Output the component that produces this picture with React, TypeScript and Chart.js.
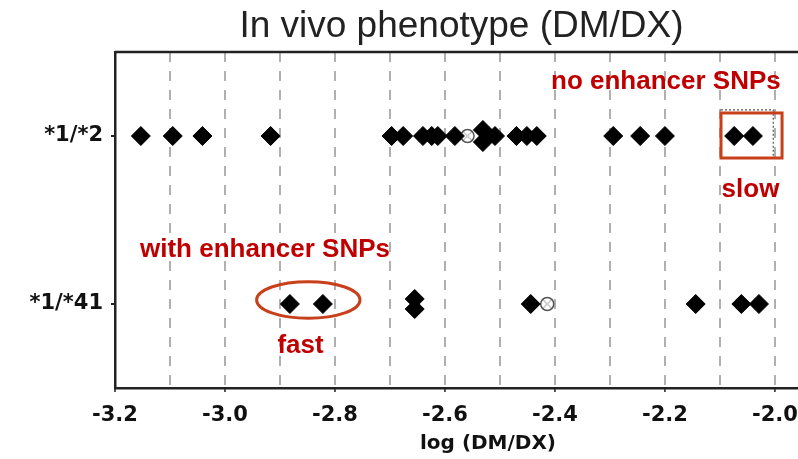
import React, { useEffect, useRef } from "react";
import { Chart, registerables } from "chart.js";

Chart.register(...registerables);

// ---- data ----
const genotypes = ["*1/*41", "*1/*2"]; // y = 1, y = 2
const xTickValues = [-3.2, -3.1, -3.0, -2.9, -2.8, -2.7, -2.6, -2.5, -2.4, -2.3, -2.2, -2.1, -2.0];
const xTickLabels = ["-3.2", "", "-3.0", "", "-2.8", "", "-2.6", "", "-2.4", "", "-2.2", "", "-2.0"];

// *1/*2 carriers (single diamonds)
const star2Values = [
  -3.153, -3.095, -3.041, -2.917, -2.697, -2.676, -2.64, -2.624, -2.613, -2.582,
  -2.509, -2.47, -2.451, -2.433, -2.294, -2.245, -2.2, -2.074, -2.04,
];
// *1/*2 carriers sharing a position (stacked pair)
const star2Stacked = [-2.531];
// *1/*2 open (crossed circle) marker
const star2Open = [-2.559];

// *1/*41 carriers
const star41Values = [-2.882, -2.822, -2.444, -2.144, -2.061, -2.029];
const star41Stacked = [-2.655];
const star41Open = [-2.414];

const TEXT_RED = "#C00000";
const SHAPE_RED = "#C8401A";

export default function App() {
  const ref = useRef<HTMLCanvasElement | null>(null);

  useEffect(() => {
    document.body.style.margin = "0";
    const canvas = ref.current;
    if (!canvas) return;

    const row = (vals: number[], y: number) => vals.map((x) => ({ x, y }));
    const stack = (vals: number[], y: number, d: number) =>
      vals.flatMap((x) => [
        { x, y: y + d },
        { x, y: y - d },
      ]);

    const diamondData = [
      ...row(star2Values, 2),
      ...stack(star2Stacked, 2, 0.036),
      ...row(star41Values, 1),
      ...stack(star41Stacked, 1, 0.03),
    ];
    const openData = [...row(star2Open, 2), ...row(star41Open, 1)];

    const annot = {
      id: "annot",
      afterDatasetsDraw(chart: any) {
        const ctx = chart.ctx;
        const xs = chart.scales.x;
        const ys = chart.scales.y;
        const { left, right, top, bottom } = chart.chartArea;
        ctx.save();
        // top frame line
        ctx.strokeStyle = "#222";
        ctx.lineWidth = 2.5;
        ctx.beginPath();
        ctx.moveTo(left, top);
        ctx.lineTo(right, top);
        ctx.stroke();

        // small tick marks under labelled x ticks
        ctx.lineWidth = 1.5;
        ctx.beginPath();
        xTickValues.forEach((v, i) => {
          if (!xTickLabels[i]) return;
          const px = xs.getPixelForValue(v);
          ctx.moveTo(px, bottom);
          ctx.lineTo(px, bottom + 4);
        });
        ctx.stroke();

        // dotted box around slow points
        const dx1 = xs.getPixelForValue(-2.098);
        const dx2 = xs.getPixelForValue(-2.003);
        const dy1 = ys.getPixelForValue(2.155);
        const dy2 = ys.getPixelForValue(1.869);
        ctx.strokeStyle = "#555";
        ctx.lineWidth = 1.2;
        ctx.setLineDash([2, 2]);
        ctx.strokeRect(dx1, dy1, dx2 - dx1, dy2 - dy1);
        ctx.setLineDash([]);

        // red rectangle around slow points
        const rx1 = xs.getPixelForValue(-2.098);
        const rx2 = xs.getPixelForValue(-1.987);
        const ry1 = ys.getPixelForValue(2.137);
        const ry2 = ys.getPixelForValue(1.869);
        ctx.strokeStyle = SHAPE_RED;
        ctx.lineWidth = 3;
        ctx.strokeRect(rx1, ry1, rx2 - rx1, ry2 - ry1);

        // ellipse around fast points
        const ecx = xs.getPixelForValue(-2.8485);
        const ecy = ys.getPixelForValue(1.024);
        const erx = xs.getPixelForValue(-2.8485 + 0.094) - ecx;
        const ery = ecy - ys.getPixelForValue(1.024 + 0.109);
        ctx.beginPath();
        ctx.ellipse(ecx, ecy, erx, ery, 0, 0, Math.PI * 2);
        ctx.stroke();

        // annotation texts
        ctx.fillStyle = TEXT_RED;
        ctx.font = "bold 26px 'Liberation Sans', Arial, sans-serif";
        ctx.textBaseline = "alphabetic";
        ctx.textAlign = "left";
        ctx.fillText("no enhancer SNPs", 551, 89);
        ctx.fillText("with enhancer SNPs", 140, 257);
        ctx.textAlign = "center";
        ctx.fillText("slow", 750.5, 197);
        ctx.fillText("fast", 300.5, 353);

        // title
        ctx.fillStyle = "#222";
        ctx.font = "37px 'Liberation Sans', Arial, sans-serif";
        ctx.textAlign = "center";
        ctx.fillText("In vivo phenotype (DM/DX)", 461.5, 37);

        // x axis title
        ctx.fillStyle = "#111";
        ctx.font = "bold 20px 'DejaVu Sans', Verdana, sans-serif";
        ctx.fillText("log (DM/DX)", 488, 449);
        ctx.restore();
      },
    };

    const chart = new Chart(canvas, {
      type: "scatter",
      data: {
        datasets: [
          {
            label: "diamonds",
            data: diamondData,
            pointStyle: "rectRot",
            pointRadius: 9.5,
            backgroundColor: "#000",
            borderColor: "#000",
            borderWidth: 1,
          },
          {
            label: "open",
            data: openData,
            pointStyle: "circle",
            pointRadius: 6.5,
            backgroundColor: "rgba(255,255,255,0.7)",
            borderColor: "#555",
            borderWidth: 1.5,
          },
          {
            label: "openX",
            data: openData,
            pointStyle: "crossRot",
            pointRadius: 6.5,
            backgroundColor: "#555",
            borderColor: "#555",
            borderWidth: 1.5,
          },
        ],
      },
      options: {
        responsive: false,
        animation: false,
        events: [],
        layout: { autoPadding: false, padding: { left: 0, right: 0, top: 52, bottom: 0 } },
        plugins: {
          legend: { display: false },
          tooltip: { enabled: false },
          title: { display: false },
        },
        scales: {
          x: {
            type: "linear",
            min: -3.2,
            max: -1.958,
            afterBuildTicks: (s: any) => {
              s.ticks = xTickValues.map((v) => ({ value: v }));
            },
            afterFit: (s: any) => {
              s.height = 71;
              s.paddingLeft = 0;
              s.paddingRight = 0;
            },
            ticks: {
              autoSkip: false,
              maxRotation: 0,
              padding: 15,
              color: "#111",
              font: { family: "'DejaVu Sans', Verdana, sans-serif", size: 21, weight: "bold" },
              callback: (v: any, i: number) => xTickLabels[i],
            },
            grid: {
              color: "#b0b0b0",
              lineWidth: 2,
              drawTicks: false,
              tickLength: 5,
            },
            border: { display: true, color: "#222", width: 2.5, dash: [10, 9] },
          },
          y: {
            type: "linear",
            min: 0.5,
            max: 2.5,
            afterBuildTicks: (s: any) => {
              s.ticks = [{ value: 1 }, { value: 2 }];
            },
            afterFit: (s: any) => {
              s.width = 115;
              s.paddingTop = 0;
              s.paddingBottom = 0;
            },
            ticks: {
              padding: 8,
              color: "#111",
              font: { family: "'DejaVu Sans', Verdana, sans-serif", size: 21, weight: "bold" },
              callback: (v: any) => genotypes[Math.round(Number(v)) - 1],
            },
            grid: {
              drawOnChartArea: false,
              drawTicks: true,
              tickLength: 4,
              color: "#222",
              lineWidth: 2,
            },
            border: { display: true, color: "#222", width: 2.5 },
          },
        },
      },
      plugins: [annot],
    } as any);

    return () => chart.destroy();
  }, []);

  return (
    <div style={{ position: "absolute", left: 0, top: 0, width: 798, height: 459 }}>
      <canvas ref={ref} width={798} height={459} style={{ display: "block" }} />
    </div>
  );
}
